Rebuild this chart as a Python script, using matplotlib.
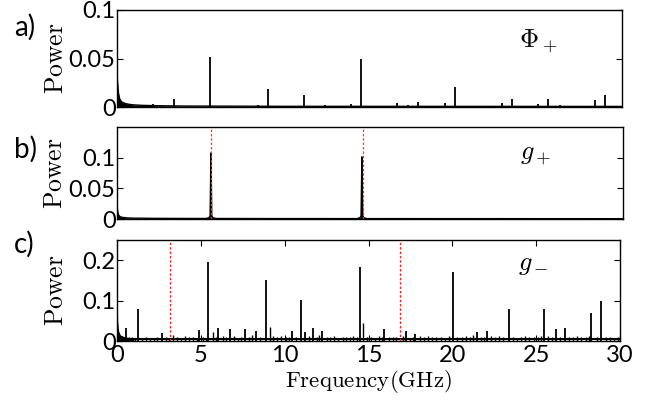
import matplotlib
matplotlib.use("Agg")
import matplotlib.pyplot as plt
import numpy as np

plt.rcParams['mathtext.fontset'] = 'cm'
plt.rcParams['font.family'] = ['Lato', 'DejaVu Sans']

# ---------------- data (GHz, power) ----------------
# panel a: Phi_+
a_tail_f = [0.0, 0.02, 0.05, 0.1, 0.15, 0.2, 0.3, 0.45, 0.7, 1.0, 1.5, 2.5, 4.0, 6.0, 10.0, 30.0]
a_tail_p = [0.041, 0.030, 0.020, 0.013, 0.009, 0.007, 0.005, 0.0038, 0.0028, 0.0022, 0.0017, 0.0013, 0.0010, 0.0009, 0.0007, 0.0006]
a_peak_f = [2.12, 3.39, 5.54, 8.4, 8.95, 11.09, 12.35, 13.93, 14.52, 16.64, 17.3, 17.9, 19.46, 20.06,
            22.88, 23.45, 25.02, 25.6, 26.3, 28.41, 28.99]
a_peak_p = [0.003, 0.008, 0.052, 0.002, 0.0186, 0.0124, 0.002, 0.003, 0.049, 0.004, 0.002, 0.005, 0.004, 0.0206,
            0.004, 0.0086, 0.003, 0.0086, 0.002, 0.0076, 0.0124]

# panel b: g_+
b_tail_f = [0.0, 0.02, 0.05, 0.1, 0.2, 0.35, 0.6, 1.0, 2.0, 4.0, 10.0, 20.0, 30.0]
b_tail_p = [0.026, 0.017, 0.010, 0.006, 0.0035, 0.0025, 0.0018, 0.0014, 0.0011, 0.0009, 0.0007, 0.0006, 0.0005]
b_peak_f = [5.57, 14.52]
b_peak_p = [0.108, 0.1016]
b_base_f = [5.35, 5.45, 5.52, 5.57, 5.62, 5.69, 5.79]
b_base_p = [0.0012, 0.002, 0.005, 0.108, 0.005, 0.002, 0.0012]
b_base2_f = [14.30, 14.40, 14.47, 14.52, 14.57, 14.64, 14.74]
b_base2_p = [0.0012, 0.002, 0.005, 0.1016, 0.005, 0.002, 0.0012]
b_red = [5.6, 14.58]

# panel c: g_-
c_tail_f = [0.0, 0.01, 0.03, 0.06, 0.1, 0.15, 0.22, 0.3, 0.45, 0.7, 1.0]
c_tail_p = [0.144, 0.09, 0.045, 0.03, 0.022, 0.016, 0.012, 0.010, 0.008, 0.006, 0.005]
c_peak_f = [0.54, 1.27, 2.66, 4.92, 5.45, 6.05, 6.75, 7.62, 8.3, 8.87, 10.43, 10.99, 11.2, 11.69, 12.24,
            14.5, 15.95, 17.24, 17.8, 20.04, 21.47, 22.06, 23.35, 25.45, 26.17, 26.73, 28.3, 28.87]
c_peak_p = [0.032, 0.080, 0.019, 0.027, 0.196, 0.032, 0.030, 0.030, 0.025, 0.150, 0.025, 0.102, 0.022, 0.032, 0.025,
            0.184, 0.029, 0.025, 0.018, 0.171, 0.022, 0.025, 0.078, 0.080, 0.029, 0.032, 0.069, 0.100]
c_noise_f = [0.3, 0.7, 0.9, 1.1, 1.5, 1.7, 1.95, 2.2, 2.4, 2.9, 3.1, 3.35, 3.6, 3.8, 4.05, 4.3, 4.55, 4.75,
             5.1, 5.3, 5.7, 5.9, 6.3, 6.5, 7.0, 7.2, 7.4, 7.85, 8.05, 8.55, 9.1, 9.3, 9.55, 9.8, 10.05, 10.25,
             10.7, 11.45, 11.9, 12.05, 12.5, 12.7, 12.95, 13.2, 13.45, 13.65, 13.9, 14.1, 14.3, 14.7, 14.9,
             15.15, 15.4, 15.6, 15.8, 16.2, 16.45, 16.65, 17.05, 17.5, 17.65, 18.05, 18.3, 18.55, 18.8, 19.05,
             19.3, 19.55, 19.8, 20.3, 20.55, 20.8, 21.05, 21.25, 21.7, 21.9, 22.3, 22.55, 22.8, 23.05, 23.6,
             23.85, 24.1, 24.35, 24.6, 24.85, 25.1, 25.3, 25.7, 25.95, 26.45, 26.95, 27.2, 27.45, 27.7, 27.95,
             28.15, 28.6, 29.15, 29.4, 29.65, 29.9]
c_noise_p = [0.012, 0.009, 0.011, 0.006, 0.008, 0.010, 0.007, 0.006, 0.009, 0.011, 0.008, 0.014, 0.009, 0.007,
             0.012, 0.009, 0.010, 0.008, 0.011, 0.006, 0.022, 0.010, 0.013, 0.009, 0.012, 0.008, 0.011, 0.009,
             0.014, 0.010, 0.035, 0.012, 0.010, 0.013, 0.009, 0.011, 0.010, 0.012, 0.010, 0.015, 0.011, 0.009,
             0.012, 0.008, 0.011, 0.009, 0.010, 0.012, 0.009, 0.045, 0.011, 0.010, 0.008, 0.012, 0.009, 0.011,
             0.010, 0.009, 0.012, 0.008, 0.010, 0.013, 0.009, 0.012, 0.010, 0.009, 0.011, 0.008, 0.012, 0.010,
             0.009, 0.012, 0.010, 0.014, 0.009, 0.011, 0.012, 0.009, 0.013, 0.010, 0.011, 0.008, 0.010, 0.012,
             0.009, 0.011, 0.010, 0.013, 0.012, 0.009, 0.011, 0.010, 0.009, 0.012, 0.010, 0.011, 0.013, 0.010,
             0.009, 0.011, 0.008, 0.010]
c_red = [3.15, 16.86]

panel_labels = ["a)", "b)", "c)"]
panel_names = [r"$\Phi_+$", r"$g_+$", r"$g_-$"]
ylims = [0.1, 0.15, 0.25]
yticks = [[0, 0.05, 0.1], [0, 0.05, 0.1], [0, 0.1, 0.2]]
yticklabels = [["0", "0.05", "0.1"], ["0", "0.05", "0.1"], ["0", "0.1", "0.2"]]
xticks = [0, 5, 10, 15, 20, 25, 30]

# ---------------- figure ----------------
W, H = 662, 403
fig = plt.figure(figsize=(W / 100, H / 100), dpi=100)

def rect(l, r, t, b):
    return [l / W, 1 - b / H, (r - l) / W, (b - t) / H]

axa = fig.add_axes(rect(117, 622, 10, 107))
axb = fig.add_axes(rect(117, 623, 127, 219))
axc = fig.add_axes(rect(117, 620, 240, 341))
axes = [axa, axb, axc]

lw = 1.3
axa.plot(a_tail_f, a_tail_p, color='black', lw=1.0)
axa.fill_between(a_tail_f, 0, a_tail_p, color='black', lw=0)
axa.vlines(a_peak_f, 0, a_peak_p, color='black', lw=lw)

axb.plot(b_tail_f, b_tail_p, color='black', lw=1.0)
axb.fill_between(b_tail_f, 0, b_tail_p, color='black', lw=0)
axb.plot(b_base_f, b_base_p, color='black', lw=1.0)
axb.plot(b_base2_f, b_base2_p, color='black', lw=1.0)
axb.vlines(b_peak_f, 0, b_peak_p, color='black', lw=lw)
for xr in b_red:
    axb.axvline(xr, color='#ff3333', lw=0.9, ls=(0, (2, 1.5)))

axc.plot(c_tail_f, c_tail_p, color='black', lw=1.0)
axc.fill_between(c_tail_f, 0, c_tail_p, color='black', lw=0)
axc.vlines(c_noise_f, 0, c_noise_p, color='black', lw=1.0)
axc.vlines(c_peak_f, 0, c_peak_p, color='black', lw=lw)
axc.plot([0, 30], [0.004, 0.004], color='black', lw=1.5)
for xr in c_red:
    axc.axvline(xr, color='#ff2222', lw=0.9, ls=(0, (2, 1.5)))

name_y = [0.62, 0.65, 0.70]
for i, ax in enumerate(axes):
    ax.set_xlim(0, 30)
    ax.set_ylim(0, ylims[i])
    ax.set_yticks(yticks[i])
    ax.set_yticklabels(yticklabels[i])
    ax.tick_params(axis='y', direction='in', right=True, length=4, width=0.8,
                   labelsize=17, pad=1)
    for s in ax.spines.values():
        s.set_linewidth(1.0)
    ax.set_ylabel(r"$\mathrm{Power}$", fontsize=18.5)
    ax.yaxis.set_label_coords(-0.098, 0.5)
    ax.text(0.797, name_y[i], panel_names[i], transform=ax.transAxes,
            fontsize=19, ha='left', va='baseline')
    if i < 2:
        ax.set_xticks([])
    else:
        ax.set_xticks(xticks)
        ax.tick_params(axis='x', direction='in', top=True, length=4, width=0.8,
                       labelsize=17, pad=3)
        ax.set_xlabel(r"$\mathrm{Frequency(GHz)}$", fontsize=16.5, labelpad=1)

for lab, y in zip(panel_labels, [27, 149, 244]):
    fig.text(14 / W, 1 - y / H, lab, fontsize=20, ha='left', va='center')

fig.savefig("out.png", dpi=100)
